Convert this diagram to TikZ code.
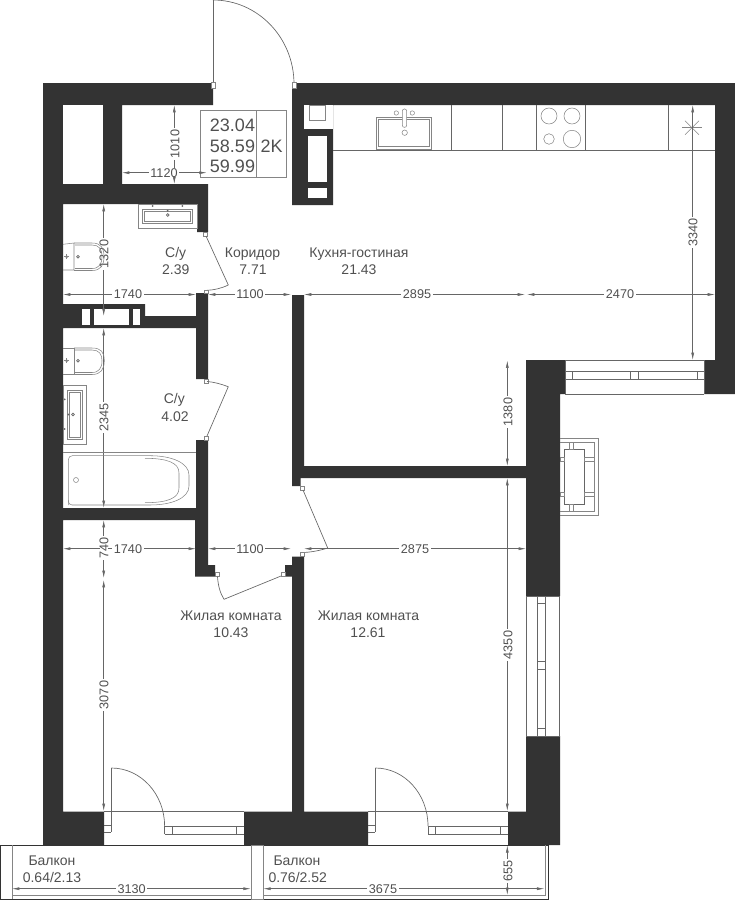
\documentclass[tikz,border=0pt]{standalone}
\usepackage{fontspec}
\setmainfont{Liberation Sans}
\usetikzlibrary{arrows.meta}
\definecolor{walldark}{HTML}{333333}
\definecolor{linegrey}{HTML}{666666}
\definecolor{textgrey}{HTML}{505050}
\tikzset{
  wall/.style={fill=walldark},
  hole/.style={fill=white},
  plan/.style={draw=linegrey,line width=0.5pt},
  planthin/.style={draw=linegrey!80,line width=0.4pt},
  dimline/.style={draw=linegrey,line width=0.4pt,{Latex[length=5.5pt,width=2.2pt]}-{Latex[length=5.5pt,width=2.2pt]}},
  dimtext/.style={text=textgrey,font=\fontsize{9.5pt}{10pt}\selectfont,fill=white,inner sep=1.2pt},
  roomtext/.style={text=textgrey,font=\fontsize{10.5pt}{12pt}\selectfont,inner sep=0pt},
  areatext/.style={text=textgrey,font=\fontsize{13.5pt}{15pt}\selectfont,inner sep=0pt}
}
\begin{document}
\begin{tikzpicture}[x=0.75pt,y=-0.75pt]

\useasboundingbox (0,0) rectangle (735,900);

\fill[wall] (43,83) -- (213,83) -- (213,105) -- (122,105) -- (122,184) -- (208,184) -- (208,232) -- (197,232) -- (197,204) -- (63,204) -- (63,304) -- (145,304) -- (145,316) -- (196,316) -- (196,293) -- (208,293) -- (208,379) -- (196,379) -- (196,328) -- (63,328) -- (63,508) -- (196,508) -- (196,440) -- (208,440) -- (208,565) -- (215,565) -- (215,576.5) -- (195,576.5) -- (195,520) -- (63,520) -- (63,811.7) -- (104,811.7) -- (104,845) -- (43,845) -- cycle;
\fill[wall] (292,83) -- (735,83) -- (735,394) -- (704,394) -- (704,360) -- (715,360) -- (715,105) -- (333,105) -- (333,205) -- (292,205) -- cycle;
\fill[wall] (292,295) -- (304,295) -- (304,466) -- (526,466) -- (526,360) -- (565,360) -- (565,394) -- (560,394) -- (560,596) -- (526,596) -- (526,478) -- (300.5,478) -- (300.5,486) -- (292,486) -- cycle;
\fill[wall] (526,736) -- (560,736) -- (560,845) -- (508,845) -- (508,811.7) -- (526,811.7) -- cycle;
\fill[wall] (292,556.5) -- (304,556.5) -- (304,811.7) -- (368,811.7) -- (368,845) -- (244,845) -- (244,811.7) -- (292,811.7) -- (292,576.5) -- (285,576.5) -- (285,565) -- (292,565) -- cycle;

\fill[hole] (63,105) rectangle (103,184);
\fill[hole] (81.7,308.5) rectangle (90,324.5);
\fill[hole] (94,308.5) rectangle (128.7,324.5);
\fill[hole] (132.7,308.5) rectangle (140.3,324.5);
\fill[hole] (304,105) rectangle (333,129.3);
\fill[hole] (307.5,136) rectangle (326.5,182.3);
\fill[hole] (307.5,187.5) rectangle (326.5,198.3);
\draw[planthin] (309,105) rectangle (325,120);

\draw[plan] (213,84) -- (213,0);
\draw[plan] (213,0) arc (-90:0:81 and 84);
\draw[planthin,fill=white] (211,82) rectangle (215,88);
\draw[planthin,fill=white] (292,82) rectangle (296,88);

\draw[planthin] (200.7,110.7) rectangle (286.5,177);
\draw[planthin] (256,110.7) -- (256,177);
\node[areatext](area living) at (232.5,125.5) {23.04};
\node[areatext](area total) at (232.5,146) {58.59};
\node[areatext](area full) at (232.5,166) {59.99};
\node[areatext](flat type) at (271.7,146) {2K};

\draw[plan] (333,150.3) -- (715,150.3);
\draw[plan] (451,105) -- (451,150.3);
\draw[plan] (502.3,105) -- (502.3,150.3);
\draw[plan] (536.3,105) -- (536.3,150.3);
\draw[plan] (585.3,105) -- (585.3,150.3);
\draw[plan] (668.3,105) -- (668.3,150.3);
\draw[planthin] (376,117.3) rectangle (431.3,149);
\draw[planthin] (378.3,119.5) rectangle (429.3,146.5);
\draw[planthin,fill=white,rounded corners=1.5pt] (402.3,109) rectangle (406.7,127.3);
\draw[planthin] (396.3,113) circle (2.2);
\draw[planthin] (412.3,113) circle (2.2);
\draw[planthin] (404.7,132.7) circle (2.7);
\draw[planthin] (549,116) circle (8);
\draw[planthin] (572,116) circle (8);
\draw[planthin] (549,139) circle (5.3);
\draw[planthin] (572,139) circle (8.7);
\draw[planthin] (682,127.7) -- (702,127.7);
\draw[planthin] (685,120.7) -- (699,134.7);
\draw[planthin] (685,134.7) -- (699,120.7);
\draw[planthin] (692,117.7) -- (692,137.7);

\draw[dimline] (174.3,105) -- (174.3,184);
\node[dimtext,rotate=90](dim shaft v) at (175,144) {1010};
\draw[dimline] (122,172.7) -- (206.7,172.7);
\node[dimtext,inner ysep=0pt](dim shaft h) at (164,172.7) {1120};

\draw[dimline] (103.7,204) -- (103.7,316);
\node[dimtext,rotate=90,inner ysep=0pt](dim bath1 v) at (104,254) {1320};
\draw[dimline] (63,294.5) -- (196,294.5);
\node[dimtext](dim bath1 h) at (128,294.5) {1740};
\draw[dimline] (208,294.5) -- (291,294.5);
\node[dimtext](dim hall top) at (250,294.5) {1100};
\draw[dimline] (304,294.5) -- (525,294.5);
\node[dimtext](dim kitchen left) at (417,294.5) {2895};
\draw[dimline] (527,294.5) -- (715,294.5);
\node[dimtext](dim kitchen right) at (620,294.5) {2470};
\draw[dimline] (692.7,105) -- (692.7,360);
\node[dimtext,rotate=90](dim kitchen v) at (693,232.7) {3340};
\draw[dimline] (103.7,328) -- (103.7,508);
\node[dimtext,rotate=90](dim bath2 v) at (104,417.7) {2345};
\draw[dimline] (103.7,520) -- (103.7,578);
\draw[dimline] (103.7,580) -- (103.7,811);
\draw[dimline] (63,548.7) -- (196,548.7);
\node[dimtext,rotate=90,inner ysep=0pt](dim room1 top) at (104,548) {740};
\node[dimtext](dim room1 h) at (128,548.7) {1740};
\node[dimtext,rotate=90](dim room1 v) at (104,695) {3070};
\draw[dimline] (208,548.7) -- (291,548.7);
\node[dimtext](dim hall bottom) at (250,548.7) {1100};
\draw[dimline] (304,548.7) -- (526,548.7);
\node[dimtext](dim room2 h) at (415,548.7) {2875};
\draw[dimline] (507.3,360.5) -- (507.3,466);
\node[dimtext,rotate=90](dim kitchen low) at (508,412) {1380};
\draw[dimline] (507.3,478) -- (507.3,811);
\node[dimtext,rotate=90](dim room2 v) at (508,645) {4350};

\draw[planthin] (138.3,204) rectangle (197,228.3);
\draw[planthin] (142.7,209.3) rectangle (192.3,223.3);
\draw[planthin] (144.7,211) rectangle (190.3,221.6);
\fill[linegrey] (152.7,206) circle (1);
\fill[linegrey] (182.3,206) circle (1);
\fill[linegrey] (167.7,210.7) circle (1);
\draw[plan] (167.7,215) circle (1.4);

\draw[planthin] (63,244.3) -- (74,243) -- (74,270) -- (63,270);
\draw[planthin] (74,243) -- (92,243) .. controls (101,243) and (104,248) .. (104,256.7) .. controls (104,265) and (101,270.5) .. (92,270.5) -- (74,270.5);
\draw[planthin] (75,245) -- (92,245) .. controls (99,245) and (102,249) .. (102,256.7) .. controls (102,264) and (99,268.5) .. (92,268.5) -- (75,268.5);
\fill[linegrey] (66.7,256.7) circle (1.5);
\draw[planthin] (64.2,256.7) -- (69.2,256.7);
\draw[planthin] (66.7,254.2) -- (66.7,259.2);
\draw[plan] (78,256.7) circle (1.4);

\draw[planthin] (63,348.3) -- (74,348.3) -- (74,374.3) -- (63,374.3);
\draw[planthin] (74,348) -- (92,348) .. controls (101,348) and (104.3,352) .. (104.3,360.7) .. controls (104.3,369) and (101,374.5) .. (92,374.5) -- (74,374.5);
\draw[planthin] (75,350) -- (92,350) .. controls (99,350) and (102,354) .. (102,360.7) .. controls (102,368) and (99,372.5) .. (92,372.5) -- (75,372.5);
\fill[linegrey] (66.7,360.7) circle (1.5);
\draw[planthin] (64.2,360.7) -- (69.2,360.7);
\draw[planthin] (66.7,358.2) -- (66.7,363.2);
\draw[plan] (78,360.7) circle (1.4);

\draw[planthin] (63,385.7) rectangle (86.7,444);
\draw[planthin] (67.3,390) rectangle (82.3,439);
\draw[planthin] (69.3,392) rectangle (80.3,437);
\fill[linegrey] (64.7,399.3) circle (1);
\fill[linegrey] (64.7,429) circle (1);
\fill[linegrey] (68.3,414.5) circle (1);
\draw[plan] (73,414.5) circle (1.4);

\draw[planthin] (63,452.3) -- (196,452.3);
\draw[planthin,rounded corners=3pt] (68.3,505) -- (68.3,455.7) -- (150,455.7);
\draw[planthin] (150,455.7) .. controls (172,455.7) and (189,463) .. (189,475) -- (189,486) .. controls (189,498) and (172,505) .. (150,505) -- (72,505);
\draw[planthin] (68.3,500) .. controls (68.3,503.5) and (70,505) .. (72,505);
\draw[planthin] (145,458.3) .. controls (168,458.3) and (179,463) .. (179,473) -- (179,488) .. controls (179,498) and (168,502.7) .. (145,502.7);
\draw[planthin] (76,480) circle (2.5);

\draw[planthin,fill=white] (203.2,232) rectangle (207,236);
\draw[plan] (206,236) -- (228.3,285);
\draw[plan] (228.3,285) .. controls (221,288.5) and (214,290) .. (207,290.3);
\draw[planthin,fill=white] (204,290) rectangle (208,293);

\draw[planthin,fill=white] (204,379) rectangle (208,383);
\draw[plan] (207,381.5) .. controls (214,382) and (221,384) .. (228.3,386.7);
\draw[plan] (228.3,386.7) -- (207,436);
\draw[planthin,fill=white] (204,436) rectangle (208,440);

\draw[planthin,fill=white] (215,572) rectangle (219,576.5);
\draw[plan] (217.5,576.5) .. controls (218,585) and (220,593) .. (224,599.3);
\draw[plan] (224,599.3) -- (281,576);
\draw[planthin,fill=white] (281,572) rectangle (285,576.5);

\draw[planthin,fill=white] (300.5,486) rectangle (304,490);
\draw[plan] (303,490) -- (327.7,548);
\draw[plan] (327.7,548) .. controls (320,550.5) and (312,552) .. (304,552.5);
\draw[planthin,fill=white] (300.5,552.5) rectangle (304,556.5);

\draw[plan] (565,360) -- (704,360);
\draw[plan] (565,394) -- (704,394);
\draw[plan] (565,360) -- (565,394);
\draw[plan] (704,360) -- (704,394);
\draw[plan] (565,371.7) -- (704,371.7);
\draw[plan] (565,379.3) -- (704,379.3);
\draw[plan] (572,371.7) -- (572,379.3);
\draw[plan] (630.7,371.7) -- (630.7,379.3);
\draw[plan] (638.3,371.7) -- (638.3,379.3);
\draw[plan] (697,371.7) -- (697,379.3);

\draw[plan] (526,596) -- (526,736);
\draw[plan] (559.5,596) -- (559.5,736);
\draw[plan] (526,596) -- (560,596);
\draw[plan] (526,736) -- (560,736);
\draw[plan] (537.7,596) -- (537.7,736);
\draw[plan] (545.3,596) -- (545.3,736);
\draw[plan] (537.7,603.3) -- (545.3,603.3);
\draw[plan] (537.7,661.7) -- (545.3,661.7);
\draw[plan] (537.7,669.3) -- (545.3,669.3);
\draw[plan] (537.7,728.3) -- (545.3,728.3);

\draw[planthin] (560,438.3) -- (598,438.3) -- (598,515.3) -- (560,515.3);
\draw[planthin] (560,442) -- (594.3,442) -- (594.3,511.3) -- (560,511.3);
\draw[plan] (564.7,449.3) rectangle (584.3,504.7);
\draw[planthin] (569.3,442) rectangle (573.7,449.3);
\draw[planthin] (569.3,504.7) rectangle (573.7,511.3);
\draw[planthin] (560,457.3) rectangle (564.7,461);
\draw[planthin] (584.3,457.3) rectangle (594.3,461);
\draw[planthin] (560,492.7) rectangle (564.7,496.7);
\draw[planthin] (584.3,492.7) rectangle (594.3,496.7);

\draw[plan] (104,811.7) -- (244,811.7);
\draw[plan] (111.3,768) -- (111.3,832.3);
\draw[plan] (104,825) -- (111.3,825);
\draw[plan] (104,832.3) -- (111.3,832.3);
\draw[plan] (111.3,768) arc (-90:0:53.3 and 58);
\draw[plan] (164.6,826) -- (164.6,834);
\draw[plan] (164.6,826.3) -- (244,826.3);
\draw[plan] (164.6,834) -- (244,834);
\draw[plan] (172.3,826.3) -- (172.3,834);
\draw[plan] (236.6,826.3) -- (236.6,834);

\draw[plan] (368,811.7) -- (508,811.7);
\draw[plan] (375.3,768) -- (375.3,832.3);
\draw[plan] (368,825) -- (375.3,825);
\draw[plan] (368,832.3) -- (375.3,832.3);
\draw[plan] (375.3,768) arc (-90:0:52.7 and 58);
\draw[plan] (428,826) -- (428,834);
\draw[plan] (428,826.3) -- (508,826.3);
\draw[plan] (428,834) -- (508,834);
\draw[plan] (435.7,826.3) -- (435.7,834);
\draw[plan] (500,826.3) -- (500,834);

\draw[draw=walldark,line width=0.6pt] (0.4,845.3) -- (548.7,845.3);
\draw[draw=walldark,line width=0.6pt] (0.4,845.3) -- (0.4,899.2) -- (548.7,899.2) -- (548.7,845.3);
\draw[planthin] (545,845.3) -- (545,895) -- (12,895);
\draw[planthin] (12,845.3) -- (12,899.2);
\draw[planthin,fill=white] (251,845.3) rectangle (263.3,899.2);

\draw[dimline] (12,888.7) -- (250.7,888.7);
\node[dimtext,inner ysep=0pt](dim balcony1) at (131.7,888.7) {3130};
\draw[dimline] (263.3,888.7) -- (544.3,888.7);
\node[dimtext,inner ysep=0pt](dim balcony2) at (383,888.7) {3675};
\draw[dimline] (507.3,845.3) -- (507.3,895);
\node[dimtext,rotate=90](dim balcony v) at (508,870.7) {655};

\node[roomtext](bath1 name) at (175.7,254) {С/у};
\node[roomtext](bath1 area) at (175.7,270) {2.39};
\node[roomtext](hall name) at (252.5,254) {Коридор};
\node[roomtext](hall area) at (253,270) {7.71};
\node[roomtext](kitchen name) at (359,254) {Кухня-гостиная};
\node[roomtext](kitchen area) at (359,270) {21.43};
\node[roomtext](bath2 name) at (174.3,400) {С/у};
\node[roomtext](bath2 area) at (175,416.7) {4.02};
\node[roomtext](room1 name) at (231,616) {Жилая комната};
\node[roomtext](room1 area) at (231,633) {10.43};
\node[roomtext](room2 name) at (368.5,616) {Жилая комната};
\node[roomtext](room2 area) at (368,633) {12.61};
\node[roomtext](balcony1 name) at (52,860.7) {Балкон};
\node[roomtext](balcony1 area) at (52,877) {0.64/2.13};
\node[roomtext](balcony2 name) at (297,860.7) {Балкон};
\node[roomtext](balcony2 area) at (297.7,877) {0.76/2.52};

\end{tikzpicture}
\end{document}
